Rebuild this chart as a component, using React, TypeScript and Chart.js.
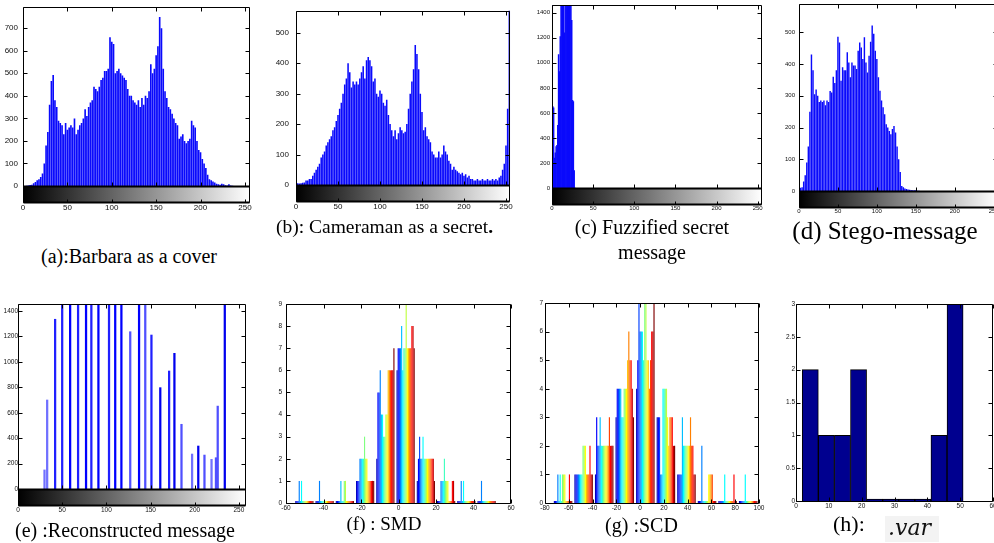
import React, { useEffect, useRef } from 'react';
import { Chart, registerables } from 'chart.js';
Chart.register(...registerables);

// ---------------- data ----------------
// gray-level histograms sampled every 2 levels (level = index * 2)
const HIST_STEP = 2;
const barbaraCounts = [
  0, 0, 1, 2, 4, 6, 12, 18, 25, 30, 40, 55, 100, 180, 240, 360,
  466, 492, 380, 350, 290, 280, 270, 230, 280, 250, 260, 270, 260, 300, 230, 250,
  270, 280, 300, 340, 310, 350, 370, 380, 440, 430, 420, 440, 470, 480, 510, 510,
  520, 660, 640, 630, 500, 510, 520, 500, 490, 480, 470, 430, 400, 400, 380, 370,
  360, 380, 350, 390, 360, 400, 390, 420, 540, 500, 520, 580, 620, 750, 700, 520,
  420, 390, 350, 340, 320, 300, 280, 270, 210, 220, 230, 200, 190, 200, 210, 290,
  270, 260, 200, 160, 150, 120, 100, 80, 50, 30, 25, 20, 15, 10, 8, 5,
  10, 8, 3, 2, 8, 2, 1, 0, 0, 0, 0, 0, 0, 0, 0, 0,
];
const cameramanCounts = [
  8, 6, 5, 6, 7, 8, 15, 15, 20, 20, 30, 40, 50, 60, 70, 90,
  100, 110, 130, 140, 150, 160, 180, 190, 210, 230, 250, 270, 300, 330, 350, 400,
  370, 320, 340, 330, 340, 330, 350, 370, 390, 350, 410, 420, 410, 390, 340, 350,
  300, 290, 310, 300, 270, 260, 280, 230, 200, 180, 160, 180, 150, 170, 190, 180,
  170, 175, 200, 250, 300, 340, 380, 460, 430, 380, 300, 240, 180, 190, 160, 150,
  140, 110, 100, 90, 90, 110, 90, 100, 130, 110, 100, 80, 70, 50, 60, 50,
  45, 40, 35, 40, 30, 35, 25, 30, 20, 20, 15, 15, 20, 15, 15, 20,
  15, 15, 20, 15, 15, 20, 15, 20, 15, 25, 30, 50, 70, 130, 250, 600,
];
// fuzzified secret: one value per gray level starting at 0
const fuzzifiedCounts = [
  2000, 650, 640, 240, 280, 330, 340, 500, 1065, 930, 1210, 1600, 1700, 1600, 1500,
  1240, 1600, 1800, 1700, 1600, 1900, 1700, 1600, 1500, 1340, 700, 690, 140, 0,
];
const stegoCounts = [
  20, 10, 12, 30, 50, 90, 140, 250, 430, 380, 305, 320, 300, 280, 285, 280,
  285, 270, 285, 280, 315, 310, 360, 340, 380, 486, 468, 347, 390, 380, 380, 437,
  405, 358, 405, 395, 395, 384, 442, 468, 452, 416, 484, 405, 373, 426, 470, 521,
  495, 442, 416, 358, 316, 285, 264, 242, 210, 200, 189, 179, 195, 205, 184, 140,
  100, 60, 16, 12, 8, 6, 5, 4, 3, 2, 2, 2, 1, 1,
];
const reconLevels = [30, 33, 42, 50, 59, 68, 77, 83, 91, 103, 110, 117, 127, 137, 144, 151, 161, 171, 177, 185, 197, 204, 211, 219, 224, 226, 234];
const reconCounts = [150, 700, 1335, 1600, 1600, 1600, 1600, 1600, 1600, 1600, 1600, 1600, 1237, 1600, 1600, 1211, 797, 928, 1067, 509, 275, 338, 267, 233, 246, 652, 1600];
const reconColors = [
  '#7070ff', '#7070ff', '#2020ff', '#2020ff', '#0000ff', '#2020ff', '#0000ff', '#2020ff', '#0000ff',
  '#2020ff', '#0000ff', '#0000ff', '#5050ff', '#0000ff', '#5050ff', '#2020ff', '#0000ee', '#2020ff',
  '#0000ee', '#5050ff', '#7070ff', '#0000ee', '#5050ff', '#7070ff', '#5050ff', '#5050ff', '#0000ee',
];

// SMD: 10 bins x 16 columns
const smdBins = [-50.2, -39.4, -28.6, -17.8, -7, 3.8, 14.6, 25.4, 36.2, 47];
const smdCounts = [
  [0, 0, 0, 1, 0, 1, 0, 0, 0, 0, 0, 0, 0, 0, 0, 0],
  [0, 0, 0, 1, 0, 0, 0, 0, 0, 0, 0, 0, 0, 0, 0, 0],
  [0, 0, 0, 0, 1, 0, 0, 1, 1, 0, 0, 0, 0, 0, 0, 0],
  [1, 1, 1, 2, 2, 2, 2, 3, 2, 2, 1, 1, 1, 1, 1, 1],
  [2, 5, 5, 6, 4, 4, 3, 3, 4, 4, 6, 6, 6, 6, 6, 7],
  [6, 7, 7, 7, 8, 6, 7, 7, 9, 7, 7, 7, 7, 8, 8, 7],
  [1, 2, 3, 2, 2, 3, 2, 2, 2, 2, 2, 2, 2, 2, 2, 1],
  [0, 0, 0, 1, 1, 1, 2, 1, 1, 1, 0, 0, 0, 1, 1, 0],
  [0, 0, 0, 1, 0, 1, 0, 0, 0, 0, 0, 0, 0, 0, 0, 0],
  [0, 0, 0, 1, 0, 0, 0, 0, 0, 0, 0, 0, 0, 0, 0, 0],
];
// SCD: 10 bins x 16 columns
const scdBins = [-64.8, -47.5, -30.2, -12.9, 4.4, 21.7, 39, 56.3, 73.6, 90.9];
const scdCounts = [
  [0, 0, 0, 1, 0, 1, 0, 1, 1, 1, 0, 0, 0, 1, 0, 0],
  [1, 1, 1, 1, 1, 1, 1, 2, 2, 2, 1, 1, 1, 2, 1, 1],
  [1, 3, 2, 2, 3, 2, 2, 2, 2, 2, 2, 2, 3, 2, 2, 2],
  [3, 4, 4, 4, 4, 3, 3, 4, 4, 4, 5, 6, 5, 5, 4, 3],
  [4, 5, 7, 6, 6, 6, 5, 7, 7, 5, 5, 4, 5, 6, 6, 7],
  [3, 3, 3, 1, 1, 4, 4, 4, 4, 3, 2, 3, 3, 3, 2, 2],
  [1, 1, 1, 1, 3, 2, 2, 2, 2, 2, 2, 3, 2, 2, 1, 1],
  [0, 0, 0, 2, 0, 0, 0, 0, 0, 1, 1, 1, 1, 0, 0, 0],
  [0, 0, 0, 0, 0, 1, 0, 0, 0, 0, 0, 0, 0, 1, 0, 0],
  [0, 0, 0, 0, 0, 1, 0, 0, 0, 0, 0, 0, 0, 0, 0, 0],
];
const varBins = [4.35, 9.25, 14.15, 19.05, 23.95, 28.85, 33.75, 38.65, 43.55, 48.45];
const varCounts = [2, 1, 1, 2, 0, 0, 0, 0, 1, 3];

// tick values
const histXTicks = [0, 50, 100, 150, 200, 250];
const barbaraYTicks = [0, 100, 200, 300, 400, 500, 600, 700];
const cameramanYTicks = [0, 100, 200, 300, 400, 500];
const fuzzYTicks = [0, 200, 400, 600, 800, 1000, 1200, 1400];
const stegoYTicks = [0, 100, 200, 300, 400, 500];
const reconYTicks = [0, 200, 400, 600, 800, 1000, 1200, 1400];
const smdXTicks = [-60, -40, -20, 0, 20, 40, 60];
const smdYTicks = [0, 1, 2, 3, 4, 5, 6, 7, 8, 9];
const scdXTicks = [-80, -60, -40, -20, 0, 20, 40, 60, 80, 100];
const scdYTicks = [0, 1, 2, 3, 4, 5, 6, 7];
const varXTicks = [0, 10, 20, 30, 40, 50, 60];
const varYTicks = [0, 0.5, 1, 1.5, 2, 2.5, 3];

const jet16 = [
  '#0000bf', '#0000ff', '#0040ff', '#0080ff', '#00bfff', '#00ffff', '#40ffbf', '#80ff80',
  '#bfff40', '#ffff00', '#ffbf00', '#ff8000', '#ff4000', '#ff0000', '#bf0000', '#800000',
];

const HIST_BLUE = 'rgb(10,10,252)';

// ---------------- helpers ----------------
const matlabFrame = {
  id: 'matlabFrame',
  afterDatasetsDraw(chart: any, _args: any, opts: any) {
    const { ctx, chartArea: a, scales } = chart;
    const x = scales.x;
    const y = scales.y;
    const cb = opts.colorbar || 0;
    const L = Math.round(a.left) + 0.5;
    const R = Math.round(a.right) - 0.5;
    const T = Math.round(a.top) + 0.5;
    const B = Math.round(a.bottom) + 0.5;
    ctx.save();
    if (cb) {
      const g = ctx.createLinearGradient(a.left, 0, a.right, 0);
      g.addColorStop(0, '#000');
      g.addColorStop(1, '#fff');
      ctx.fillStyle = g;
      ctx.fillRect(a.left, a.bottom, a.right - a.left, cb);
    }
    ctx.strokeStyle = '#000';
    ctx.lineWidth = 1;
    ctx.beginPath();
    ctx.rect(L, T, R - L, B + cb - T);
    const tl = 4;
    x.ticks.forEach((t: any) => {
      const px = Math.round(x.getPixelForValue(t.value)) + 0.5;
      ctx.moveTo(px, T);
      ctx.lineTo(px, T + tl);
      ctx.moveTo(px, B);
      ctx.lineTo(px, B - tl);
      if (cb) {
        ctx.moveTo(px, B + cb);
        ctx.lineTo(px, B + cb - 3);
      }
    });
    y.ticks.forEach((t: any) => {
      const py = Math.round(y.getPixelForValue(t.value)) + 0.5;
      ctx.moveTo(L, py);
      ctx.lineTo(L + tl, py);
      ctx.moveTo(R, py);
      ctx.lineTo(R - tl, py);
    });
    ctx.stroke();
    if (cb) {
      ctx.lineWidth = 2;
      ctx.beginPath();
      ctx.moveTo(L, B);
      ctx.lineTo(R, B);
      ctx.moveTo(L, B + cb);
      ctx.lineTo(R, B + cb);
      ctx.stroke();
    }
    ctx.restore();
  },
};

type Spec = {
  frame: { l: number; t: number; r: number; b: number };
  cb: number;
  xMin: number;
  xMax: number;
  xTicks: number[];
  yMax: number;
  yTicks: number[];
  font: number;
  xPad: number;
  yPad: number;
  datasets: any[];
};

const ML = 36;
const MR = 18;
const MT = 8;

function Panel({ spec }: { spec: Spec }) {
  const ref = useRef<HTMLCanvasElement>(null);
  const MB = spec.cb + 18;
  const l = Math.round(spec.frame.l);
  const t = Math.round(spec.frame.t);
  const w = Math.round(spec.frame.r - spec.frame.l);
  const h = Math.round(spec.frame.b - spec.frame.t);
  const cw = w + ML + MR;
  const ch = h + MT + MB;
  useEffect(() => {
    if (!ref.current) return;
    const font = { family: '"Liberation Sans", Arial, sans-serif', size: spec.font };
    const chart = new Chart(ref.current, {
      type: 'bar',
      data: { datasets: spec.datasets },
      options: {
        animation: false,
        responsive: false,
        events: [],
        layout: { padding: { top: MT, right: MR, left: 0, bottom: 0 } },
        plugins: {
          legend: { display: false },
          tooltip: { enabled: false },
          matlabFrame: { colorbar: spec.cb },
        } as any,
        scales: {
          x: {
            type: 'linear',
            min: spec.xMin,
            max: spec.xMax,
            offset: false,
            grid: { display: false, drawTicks: false },
            border: { display: false },
            ticks: {
              autoSkip: false,
              maxRotation: 0,
              padding: spec.xPad,
              font,
              color: '#111',
              callback: (v: any) => String(v),
            },
            afterBuildTicks: (s: any) => {
              s.ticks = spec.xTicks.map((v) => ({ value: v }));
            },
            afterFit: (s: any) => {
              s.height = MB;
            },
          },
          y: {
            type: 'linear',
            min: 0,
            max: spec.yMax,
            grid: { display: false, drawTicks: false },
            border: { display: false },
            ticks: {
              autoSkip: false,
              padding: spec.yPad,
              font,
              color: '#111',
              callback: (v: any) => String(v),
            },
            afterBuildTicks: (s: any) => {
              s.ticks = spec.yTicks.map((v) => ({ value: v }));
            },
            afterFit: (s: any) => {
              s.width = ML;
            },
          },
        } as any,
      },
      plugins: [matlabFrame],
    } as any);
    return () => chart.destroy();
  }, []);
  return (
    <canvas
      ref={ref}
      width={cw}
      height={ch}
      style={{ position: 'absolute', left: l - ML, top: t - MT, width: cw, height: ch }}
    />
  );
}

function histDataset(counts: number[], step: number) {
  return {
    data: counts.map((c, i) => ({ x: i * step, y: c })),
    backgroundColor: HIST_BLUE,
    borderWidth: 0,
    barPercentage: 0.92,
    categoryPercentage: 1,
  };
}

function groupedDatasets(bins: number[], counts: number[][]) {
  return jet16.map((color, col) => ({
    data: bins.map((b, k) => ({ x: b, y: counts[k][col] })),
    backgroundColor: color,
    borderWidth: 0,
    barPercentage: 1,
    categoryPercentage: 0.9,
    minBarLength: 2,
  }));
}

const specs: Spec[] = [
  {
    frame: { l: 23, t: 5, r: 250.7, b: 186 }, cb: 16, xMin: 0, xMax: 256, xTicks: histXTicks, yMax: 795, yTicks: barbaraYTicks,
    font: 8, xPad: 17, yPad: 5, datasets: [histDataset(barbaraCounts, HIST_STEP)],
  },
  {
    frame: { l: 296, t: 7, r: 511.7, b: 184.5 }, cb: 16, xMin: 0, xMax: 255, xTicks: histXTicks, yMax: 572, yTicks: cameramanYTicks,
    font: 8, xPad: 17, yPad: 7, datasets: [histDataset(cameramanCounts, HIST_STEP)],
  },
  {
    frame: { l: 552, t: 5, r: 762, b: 188 }, cb: 16, xMin: 0, xMax: 255, xTicks: histXTicks, yMax: 1462, yTicks: fuzzYTicks,
    font: 6, xPad: 17, yPad: 2, datasets: [{ ...histDataset(fuzzifiedCounts, 1), barPercentage: 1 }],
  },
  {
    frame: { l: 798.5, t: 4, r: 997.4, b: 190.5 }, cb: 16, xMin: 0, xMax: 255, xTicks: histXTicks, yMax: 589, yTicks: stegoYTicks,
    font: 6, xPad: 17, yPad: 4, datasets: [histDataset(stegoCounts, HIST_STEP)],
  },
  {
    frame: { l: 18.3, t: 304, r: 246.7, b: 489 }, cb: 16, xMin: 0, xMax: 258, xTicks: histXTicks, yMax: 1455, yTicks: reconYTicks,
    font: 6.5, xPad: 17, yPad: 0,
    datasets: [{
      data: reconLevels.map((lv, i) => ({ x: lv, y: reconCounts[i] })),
      backgroundColor: reconColors, borderWidth: 0, barThickness: 1.6,
    }],
  },
  {
    frame: { l: 286, t: 304, r: 510.7, b: 503 }, cb: 0, xMin: -60, xMax: 60, xTicks: smdXTicks, yMax: 9, yTicks: smdYTicks,
    font: 6.5, xPad: 1, yPad: 4, datasets: groupedDatasets(smdBins, smdCounts),
  },
  {
    frame: { l: 545, t: 303, r: 758.7, b: 503 }, cb: 0, xMin: -80, xMax: 100, xTicks: scdXTicks, yMax: 7, yTicks: scdYTicks,
    font: 6.5, xPad: 1, yPad: 2, datasets: groupedDatasets(scdBins, scdCounts),
  },
  {
    frame: { l: 796, t: 304, r: 993.3, b: 501 }, cb: 0, xMin: 0, xMax: 60, xTicks: varXTicks, yMax: 3, yTicks: varYTicks,
    font: 6.5, xPad: 1, yPad: 1,
    datasets: [{
      data: varBins.map((b, i) => ({ x: b, y: varCounts[i] })),
      backgroundColor: '#00008f', borderColor: '#000', borderWidth: 1,
      barPercentage: 1, categoryPercentage: 1, minBarLength: 2,
    }],
  },
];

const serif = '"Liberation Serif", "Times New Roman", serif';

function Caption({ cx, cy, size, children }: any) {
  return (
    <div
      style={{
        position: 'absolute', left: cx - 160, width: 320, top: cy - 0.58 * size,
        textAlign: 'center', fontFamily: serif, fontSize: size, lineHeight: 1,
        whiteSpace: 'nowrap', color: '#000',
      }}
    >
      {children}
    </div>
  );
}

export default function App() {
  return (
    <div style={{ position: 'fixed', left: 0, top: 0, width: 994, height: 543, overflow: 'hidden', background: '#fff' }}>
      {specs.map((s, i) => (
        <Panel key={i} spec={s} />
      ))}
      <Caption cx={129} cy={258} size={20}>(a):Barbara as a cover</Caption>
      <Caption cx={384.5} cy={228} size={19.5}>(b): Cameraman as a secret<b>.</b></Caption>
      <Caption cx={652} cy={229} size={20}>(c) Fuzzified secret</Caption>
      <Caption cx={652} cy={254} size={20}>message</Caption>
      <Caption cx={885} cy={232} size={25}>(d) Stego-message</Caption>
      <Caption cx={125} cy={532} size={20}>(e) :Reconstructed message</Caption>
      <Caption cx={384} cy={525} size={19}>(f) : SMD</Caption>
      <Caption cx={641.5} cy={527} size={20}>(g) :SCD</Caption>
      <div style={{ position: 'absolute', left: 833, top: 526 - 0.58 * 22, fontFamily: serif, fontSize: 22, lineHeight: 1, whiteSpace: 'nowrap' }}>
        (h):
      </div>
      <div
        style={{
          position: 'absolute', left: 885, top: 516, width: 54, height: 26, background: '#f3f3f3',
          fontFamily: '"DejaVu Serif", serif', fontStyle: 'italic', fontSize: 22, lineHeight: '24px',
          paddingLeft: 3, boxSizing: 'border-box', whiteSpace: 'nowrap', color: '#111',
        }}
      >
        .var
      </div>
    </div>
  );
}
